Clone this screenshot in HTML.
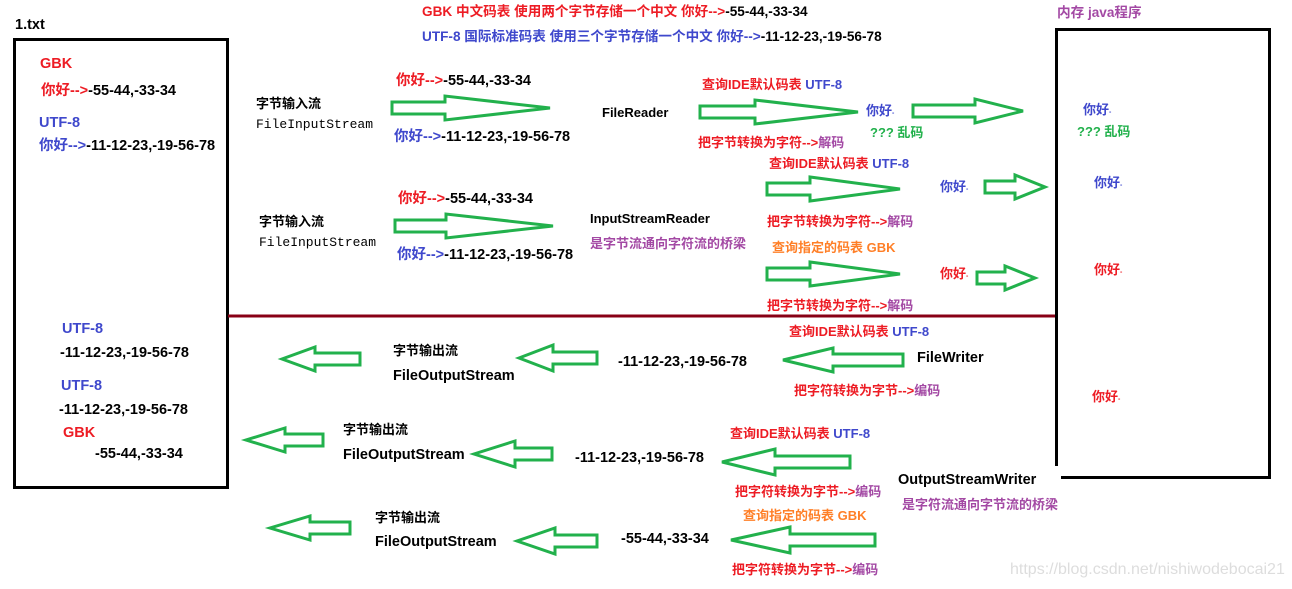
<!DOCTYPE html>
<html><head><meta charset="utf-8"><style>
body{margin:0;width:1292px;height:589px;background:#fff;position:relative;overflow:hidden;font-family:"Liberation Sans","Noto Sans CJK SC",sans-serif;font-weight:bold;font-size:14.5px}
.t{position:absolute;white-space:nowrap;line-height:14px;color:#000}
.r{color:#ed1c24}.b{color:#3f48cc}.p{color:#a349a4}.o{color:#ff7f27}.g{color:#22b14c}
.m{font-family:"Liberation Mono","Noto Sans CJK SC",monospace;font-weight:normal;font-size:13px}
.h{font-size:13.6px}
.s{font-size:13px}
svg{position:absolute;left:0;top:0}
</style></head><body>
<svg width="1292" height="589">
<rect x="14.5" y="39.5" width="213" height="448" fill="none" stroke="#000" stroke-width="3"/>
<rect x="1056.5" y="29.5" width="213" height="448" fill="none" stroke="#000" stroke-width="3"/>
<rect x="1035" y="466" width="26" height="20" fill="#fff"/>
<line x1="228" y1="316" x2="1055" y2="316" stroke="#880015" stroke-width="3"/>
<g fill="#fff" stroke="#22b14c" stroke-width="3">
<polygon points="392,102 445,102 445,96 550,108 445,120 445,114 392,114"/>
<polygon points="700,106 755,106 755,100 858,112 755,124 755,118 700,118"/>
<polygon points="913,105 975,105 975,99 1023,111 975,123 975,117 913,117"/>
<polygon points="395,220 446,220 446,214 553,226 446,238 446,232 395,232"/>
<polygon points="767,183 810,183 810,177 900,189 810,201 810,195 767,195"/>
<polygon points="985,181 1015,181 1015,175 1045,187 1015,199 1015,193 985,193"/>
<polygon points="767,268 810,268 810,262 900,274 810,286 810,280 767,280"/>
<polygon points="977,272 1005,272 1005,266 1035,278 1005,290 1005,284 977,284"/>
<polygon points="360,353 315,353 315,347 282,359 315,371 315,365 360,365"/>
<polygon points="597,352 553,352 553,345 519,358 553,371 553,364 597,364"/>
<polygon points="903,354 833,354 833,348 783,360 833,372 833,366 903,366"/>
<polygon points="323,434 285,434 285,428 246,440 285,452 285,446 323,446"/>
<polygon points="552,448 515,448 515,441 474,454 515,467 515,460 552,460"/>
<polygon points="850,456 775,456 775,449 722,462 775,475 775,468 850,468"/>
<polygon points="350,522 310,522 310,516 270,528 310,540 310,534 350,534"/>
<polygon points="597,535 555,535 555,528 517,541 555,554 555,547 597,547"/>
<polygon points="875,534 790,534 790,527 731,540 790,553 790,546 875,546"/>
</g>
</svg>
<div class="t" style="left:15px;top:18px">1.txt</div>
<div class="t r" style="left:40px;top:57px">GBK</div>
<div class="t" style="left:41px;top:84px"><span class="r">你好--&gt;</span>-55-44,-33-34</div>
<div class="t b" style="left:39px;top:116px">UTF-8</div>
<div class="t" style="left:39px;top:139px"><span class="b">你好--&gt;</span>-11-12-23,-19-56-78</div>
<div class="t r h" style="left:422px;top:5px">GBK 中文码表 使用两个字节存储一个中文 你好--&gt;<span style="color:#000">-55-44,-33-34</span></div>
<div class="t b h" style="left:422px;top:30px">UTF-8 国际标准码表 使用三个字节存储一个中文 你好--&gt;<span style="color:#000">-11-12-23,-19-56-78</span></div>
<div class="t p h" style="left:1057px;top:6px">内存 java程序</div>
<div class="t s" style="left:256px;top:97px">字节输入流</div>
<div class="t m" style="left:256px;top:118px">FileInputStream</div>
<div class="t" style="left:396px;top:74px"><span class="r">你好--&gt;</span>-55-44,-33-34</div>
<div class="t" style="left:394px;top:130px"><span class="b">你好--&gt;</span>-11-12-23,-19-56-78</div>
<div class="t s" style="left:602px;top:106px">FileReader</div>
<div class="t r s" style="left:702px;top:78px">查询IDE默认码表 <span class="b">UTF-8</span></div>
<div class="t r s" style="left:698px;top:136px">把字节转换为字符--&gt;<span class="p">解码</span></div>
<div class="t b s" style="left:866px;top:104px">你好<span style="font-size:7px">-</span></div>
<div class="t g s" style="left:870px;top:126px">??? 乱码</div>
<div class="t b s" style="left:1083px;top:103px">你好<span style="font-size:7px">-</span></div>
<div class="t g s" style="left:1077px;top:125px">??? 乱码</div>
<div class="t s" style="left:259px;top:215px">字节输入流</div>
<div class="t m" style="left:259px;top:236px">FileInputStream</div>
<div class="t" style="left:398px;top:192px"><span class="r">你好--&gt;</span>-55-44,-33-34</div>
<div class="t" style="left:397px;top:248px"><span class="b">你好--&gt;</span>-11-12-23,-19-56-78</div>
<div class="t s" style="left:590px;top:212px">InputStreamReader</div>
<div class="t p s" style="left:590px;top:237px">是字节流通向字符流的桥梁</div>
<div class="t r s" style="left:769px;top:157px">查询IDE默认码表 <span class="b">UTF-8</span></div>
<div class="t b s" style="left:940px;top:180px">你好<span style="font-size:7px">-</span></div>
<div class="t b s" style="left:1094px;top:176px">你好<span style="font-size:7px">-</span></div>
<div class="t r s" style="left:767px;top:215px">把字节转换为字符--&gt;<span class="p">解码</span></div>
<div class="t o s" style="left:772px;top:241px">查询指定的码表 GBK</div>
<div class="t r s" style="left:940px;top:267px">你好<span style="font-size:7px">-</span></div>
<div class="t r s" style="left:1094px;top:263px">你好<span style="font-size:7px">-</span></div>
<div class="t r s" style="left:767px;top:299px">把字节转换为字符--&gt;<span class="p">解码</span></div>
<div class="t b" style="left:62px;top:322px">UTF-8</div>
<div class="t" style="left:60px;top:346px">-11-12-23,-19-56-78</div>
<div class="t b" style="left:61px;top:379px">UTF-8</div>
<div class="t" style="left:59px;top:403px">-11-12-23,-19-56-78</div>
<div class="t r" style="left:63px;top:426px">GBK</div>
<div class="t" style="left:95px;top:447px">-55-44,-33-34</div>
<div class="t s" style="left:393px;top:344px">字节输出流</div>
<div class="t" style="left:393px;top:369px">FileOutputStream</div>
<div class="t" style="left:618px;top:355px">-11-12-23,-19-56-78</div>
<div class="t r s" style="left:789px;top:325px">查询IDE默认码表 <span class="b">UTF-8</span></div>
<div class="t" style="left:917px;top:351px">FileWriter</div>
<div class="t r s" style="left:794px;top:384px">把字符转换为字节--&gt;<span class="p">编码</span></div>
<div class="t r s" style="left:1092px;top:390px">你好<span style="font-size:7px">-</span></div>
<div class="t s" style="left:343px;top:423px">字节输出流</div>
<div class="t" style="left:343px;top:448px">FileOutputStream</div>
<div class="t" style="left:575px;top:451px">-11-12-23,-19-56-78</div>
<div class="t r s" style="left:730px;top:427px">查询IDE默认码表 <span class="b">UTF-8</span></div>
<div class="t" style="left:898px;top:473px">OutputStreamWriter</div>
<div class="t p s" style="left:902px;top:498px">是字符流通向字节流的桥梁</div>
<div class="t r s" style="left:735px;top:485px">把字符转换为字节--&gt;<span class="p">编码</span></div>
<div class="t o s" style="left:743px;top:509px">查询指定的码表 GBK</div>
<div class="t s" style="left:375px;top:511px">字节输出流</div>
<div class="t" style="left:375px;top:535px">FileOutputStream</div>
<div class="t" style="left:621px;top:532px">-55-44,-33-34</div>
<div class="t r s" style="left:732px;top:563px">把字符转换为字节--&gt;<span class="p">编码</span></div>
<div class="t" style="left:1010px;top:563px;color:#ddd;font-weight:normal;font-size:16px">https://blog.csdn.net/nishiwodebocai21</div>
</body></html>
